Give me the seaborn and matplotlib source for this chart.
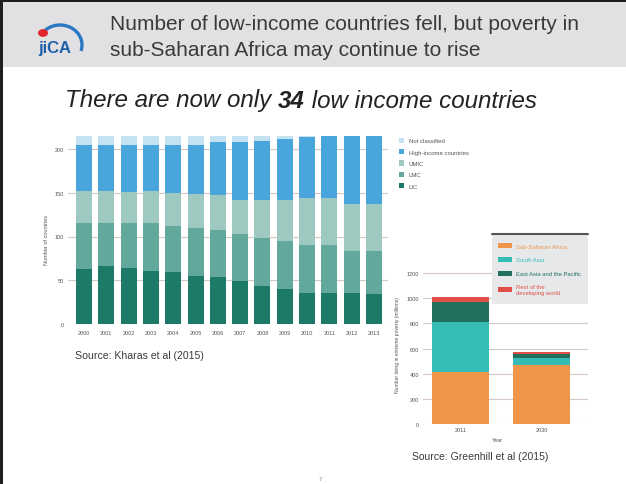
import numpy as np
import pandas as pd
import matplotlib
matplotlib.use("Agg")
import matplotlib.pyplot as plt
import seaborn as sns
from matplotlib.patches import Rectangle, Patch, Circle, Arc
from matplotlib.lines import Line2D

# ---------------- data ----------------
years = [str(y) for y in range(2000, 2014)]
lic = [63, 66, 64, 61, 59, 55, 54, 49, 43, 40, 35, 36, 36, 34]
lmc = [52, 50, 52, 54, 53, 55, 53, 54, 55, 55, 55, 54, 47, 49]
umic = [37, 36, 35, 37, 38, 39, 40, 39, 44, 47, 54, 54, 54, 54]
hic = [53, 53, 54, 53, 55, 56, 61, 66, 67, 69, 70, 71, 78, 78]
not_classified = [10, 10, 10, 10, 10, 10, 7, 7, 6, 4, 1, 0, 0, 0]
income_groups = ["LIC", "LMC", "UMIC", "High-income countries", "Not classified"]

pov_years = ["2011", "2030"]
ssa = [411, 469]
south_asia = [402, 53]
east_asia = [159, 34]
rest = [35, 14]
regions = ["Sub-Saharan Africa", "South Asia", "East Asia and the Pacific",
           "Rest of the\ndeveloping world"]

# ---------------- style ----------------
sns.set_theme(style="white")
plt.rcParams['font.family'] = ['Liberation Sans', 'DejaVu Sans']

W, H = 626, 485
fig = plt.figure(figsize=(W / 100, H / 100), dpi=100)
fig.patch.set_facecolor("white")


def fx(p):
    return p / W


def fy(p):
    return 1 - p / H


def rect(l, t, r, b):
    return [fx(l), fy(b), (r - l) / W, (b - t) / H]


# header band and border
fig.add_artist(Rectangle((0, fy(68)), 1, (68 - 2.5) / H, transform=fig.transFigure,
                         facecolor="#e1e1e3", edgecolor="none", zorder=0))
fig.add_artist(Rectangle((0, fy(2.5)), 1, 2.5 / H, transform=fig.transFigure,
                         facecolor="#1e1e1e", edgecolor="none", zorder=0.5))
fig.add_artist(Rectangle((0, 0), 2.5 / W, 1, transform=fig.transFigure,
                         facecolor="#1e1e1e", edgecolor="none", zorder=0.5))

# JICA logo
fig.add_artist(Arc((fx(60), fy(46)), 44 / W, 40 / H, theta1=-20, theta2=135,
                   transform=fig.transFigure, color="#2a78c2", lw=2.4))
fig.add_artist(Circle((fx(43), fy(34)), 5 / W, transform=fig.transFigure,
                      facecolor="#e3262e", edgecolor="none"))
fig.text(fx(55), fy(48), "jiCA", ha="center", va="center", fontsize=12,
         fontweight="bold", color="#1d5fa8")

# title
gray_txt = "#3a3a3a"
fig.text(fx(110), fy(25), "Number of low-income countries fell, but poverty in",
         ha="left", va="center", fontsize=15, color=gray_txt)
fig.text(fx(110), fy(50), "sub-Saharan Africa may continue to rise",
         ha="left", va="center", fontsize=15, color=gray_txt)

# subtitle with bold 34
renderer = fig.canvas.get_renderer()
x0 = fx(65)
parts = [("There are now only ", "normal"), ("34", "bold"), (" low income countries", "normal")]
for txt, wt in parts:
    t = fig.text(x0, fy(101), txt, ha="left", va="center", fontsize=17.4,
                 style="italic", fontweight=wt, color="#222222")
    bb = t.get_window_extent(renderer=renderer)
    x0 += bb.width / fig.bbox.width

grid_c = "#d6c8c0"
tick_c = "#555555"

# ---------------- left chart ----------------
colors1 = {"LIC": "#1e7a68", "LMC": "#62a89c", "UMIC": "#9dc9c0",
           "High-income countries": "#4aa5dc", "Not classified": "#c5e2f3"}
ax1 = fig.add_axes(rect(68, 132.5, 388, 325))
df1 = pd.DataFrame({"year": years, "LIC": lic, "LMC": lmc, "UMIC": umic,
                    "High-income countries": hic, "Not classified": not_classified})
cum1 = df1[income_groups].cumsum(axis=1)
cum1["year"] = years
for name in reversed(income_groups):
    sns.barplot(data=cum1, x="year", y=name, color=colors1[name], width=0.72,
                saturation=1, linewidth=0, ax=ax1, zorder=3)
ax1.set_xlim(-0.72, 13.63)
ax1.set_ylim(0, 220)
ax1.set_yticks([0, 50, 100, 150, 200])
ax1.set_axisbelow(True)
ax1.grid(axis="y", color=grid_c, lw=0.8, zorder=0)
ax1.grid(axis="x", visible=False)
for s in ax1.spines.values():
    s.set_visible(False)
ax1.set_xlabel("")
ax1.set_ylabel("")
ax1.tick_params(axis="y", length=0, pad=3, labelsize=4, labelcolor=tick_c)
ax1.tick_params(axis="x", length=0, pad=4, labelsize=4, labelcolor=tick_c)
fig.text(fx(47), fy(240), "Number of countries", rotation=90, ha="center",
         va="center", fontsize=4, color=tick_c)
handles1 = [Patch(facecolor=colors1[n], edgecolor="none", label=n)
            for n in reversed(income_groups)]
fig.legend(handles=handles1, loc="upper left", bbox_to_anchor=(fx(399), fy(138.5)),
           frameon=False, fontsize=4.3, handlelength=0.9, handleheight=1.0,
           handletextpad=0.7, labelspacing=0.95, borderaxespad=0, borderpad=0,
           labelcolor=tick_c)
fig.text(fx(75), fy(356), "Source: Kharas et al (2015)", ha="left", va="center",
         fontsize=7.6, color=gray_txt)

# ---------------- right chart ----------------
colors2 = {"Sub-Saharan Africa": "#f0964a", "South Asia": "#35bdb5",
           "East Asia and the Pacific": "#21705e",
           "Rest of the\ndeveloping world": "#e05048"}
ax2 = fig.add_axes(rect(423, 425 - 1250 * (151 / 1200), 588, 425))
df2 = pd.DataFrame({"year": pov_years, regions[0]: ssa, regions[1]: south_asia,
                    regions[2]: east_asia, regions[3]: rest})
cum2 = df2[regions].cumsum(axis=1)
cum2["year"] = pov_years
for name in reversed(regions):
    sns.barplot(data=cum2, x="year", y=name, color=colors2[name], width=0.70,
                saturation=1, linewidth=0, ax=ax2, zorder=3)
ax2.set_xlim(-0.463, 1.574)
ax2.set_ylim(0, 1250)
ax2.set_yticks([0, 200, 400, 600, 800, 1000, 1200])
ax2.set_axisbelow(True)
ax2.grid(axis="y", color=grid_c, lw=0.8, zorder=0)
ax2.grid(axis="x", visible=False)
for s in ax2.spines.values():
    s.set_visible(False)
ax2.set_ylabel("")
ax2.set_xlabel("")
ax2.tick_params(axis="y", length=0, pad=3, labelsize=4, labelcolor=tick_c)
ax2.tick_params(axis="x", length=0, pad=2.5, labelsize=4, labelcolor=tick_c)
fig.text(fx(497), fy(441), "Year", ha="center", va="center", fontsize=4,
         color=tick_c)
fig.text(fx(397), fy(345), "Number living in extreme poverty (millions)",
         rotation=90, ha="center", va="center", fontsize=3.6, color=tick_c)

# legend box
fig.add_artist(Rectangle((fx(492), fy(305)), (588 - 492) / W, (305 - 235) / H,
                         transform=fig.transFigure, facecolor="#e7e8e9",
                         edgecolor="none", zorder=1))
fig.add_artist(Line2D([fx(492), fx(588)], [fy(234.5), fy(234.5)],
                      transform=fig.transFigure, color="#555555", lw=1.5, zorder=2))
handles2 = [Patch(facecolor=colors2[n], edgecolor="none", label=n) for n in regions]
fig.legend(handles=handles2, loc="upper left", bbox_to_anchor=(fx(498), fy(244)),
           frameon=False, fontsize=4.2, handlelength=2.4, handleheight=1.0,
           handletextpad=0.6, labelspacing=1.4, borderaxespad=0, borderpad=0,
           labelcolor=[colors2[n] for n in regions])
fig.text(fx(412), fy(457), "Source: Greenhill et al (2015)", ha="left",
         va="center", fontsize=7.5, color=gray_txt)

fig.text(fx(320), fy(480), "7", ha="center", va="center", fontsize=4.5,
         color="#888888")

fig.savefig("out.png", dpi=100)
